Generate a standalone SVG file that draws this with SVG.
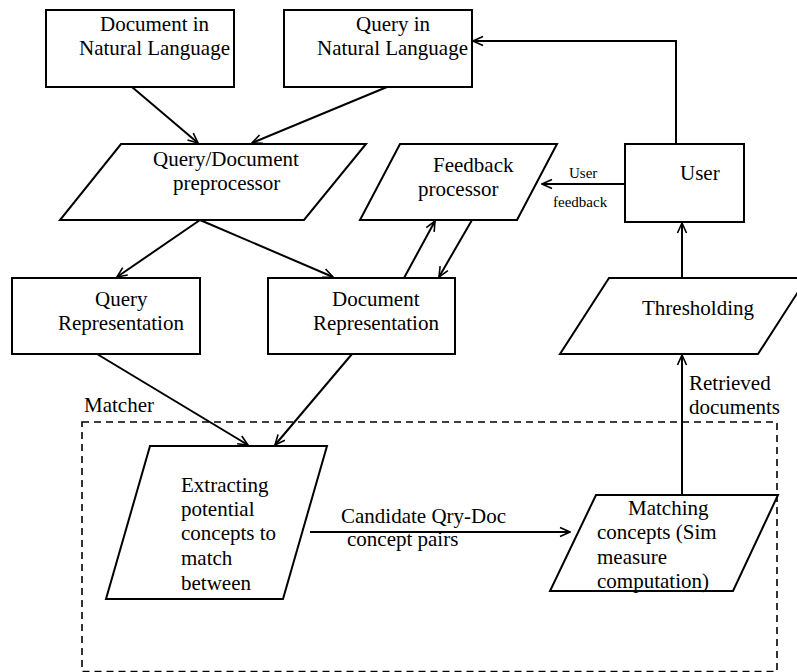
<svg xmlns="http://www.w3.org/2000/svg" width="797" height="672" viewBox="0 0 797 672" font-family="'Liberation Serif', 'DejaVu Serif', serif">
<style>
.box{fill:#fff;stroke:#000;stroke-width:2}
.t{font-family:'Liberation Serif','DejaVu Serif',serif;font-size:21px;fill:#000}
.s{font-family:'Liberation Serif','DejaVu Serif',serif;font-size:15px;fill:#000}
.c{fill:none;stroke:#000;stroke-width:2}
.dash{fill:none;stroke:#000;stroke-width:1.6;stroke-dasharray:7 5}
</style>
<defs>
<marker id="a" viewBox="0 0 12 12" refX="11" refY="6" markerWidth="12" markerHeight="12" markerUnits="userSpaceOnUse" orient="auto">
<path d="M1,1.5 L11,6 L1,10.5" fill="none" stroke="#000" stroke-width="1.6"/>
</marker>
</defs>
<rect width="797" height="672" fill="#fff"/>

<g id="matcher">
<rect class="dash" x="82" y="422" width="695" height="249.5"/>
<text class="t" x="84" y="412">Matcher</text>
</g>

<g id="connectors">
<line class="c" x1="132" y1="87" x2="198" y2="143" marker-end="url(#a)"/>
<line class="c" x1="387" y1="87" x2="252" y2="143" marker-end="url(#a)"/>
<line class="c" x1="200" y1="220" x2="117" y2="277" marker-end="url(#a)"/>
<line class="c" x1="200" y1="220" x2="333" y2="277" marker-end="url(#a)"/>
<line class="c" x1="97" y1="354" x2="248" y2="445" marker-end="url(#a)"/>
<line class="c" x1="352" y1="354" x2="275" y2="445" marker-end="url(#a)"/>
<line class="c" x1="404" y1="278" x2="435" y2="221" marker-end="url(#a)"/>
<line class="c" x1="472" y1="220" x2="439" y2="277" marker-end="url(#a)"/>
<polyline class="c" points="676,144 676,41 473,41" marker-end="url(#a)"/>
<line class="c" x1="625" y1="184" x2="542" y2="184" marker-end="url(#a)"/>
<line class="c" x1="682" y1="278" x2="682" y2="223" marker-end="url(#a)"/>
<line class="c" x1="682" y1="495" x2="682" y2="355" marker-end="url(#a)"/>
<line class="c" x1="310" y1="532" x2="570" y2="532" marker-end="url(#a)"/>
<text class="s" x="569" y="178">User</text>
<text class="s" x="553" y="207">feedback</text>
<text class="t" x="689" y="390">Retrieved</text>
<text class="t" x="689" y="414">documents</text>
<text class="t" x="341" y="523">Candidate Qry-Doc</text>
<text class="t" x="347" y="546">concept pairs</text>
</g>

<g id="doc-nl">
<rect class="box" x="46" y="10" width="188" height="77"/>
<text class="t" x="100" y="31">Document in</text>
<text class="t" x="79" y="55">Natural Language</text>
</g>

<g id="query-nl">
<rect class="box" x="284" y="10" width="188" height="77"/>
<text class="t" x="356" y="31">Query in</text>
<text class="t" x="317" y="55">Natural Language</text>
</g>

<g id="preprocessor">
<polygon class="box" points="121,144 366,144 304,220 60,220"/>
<text class="t" x="153" y="166">Query/Document</text>
<text class="t" x="173" y="190">preprocessor</text>
</g>

<g id="feedback-processor">
<polygon class="box" points="400,144 557,144 517,220 360,220"/>
<text class="t" x="433" y="172">Feedback</text>
<text class="t" x="418" y="196">processor</text>
</g>

<g id="user">
<rect class="box" x="625" y="144" width="119" height="78"/>
<text class="t" x="680" y="180">User</text>
</g>

<g id="query-rep">
<rect class="box" x="12" y="278" width="188" height="76"/>
<text class="t" x="95" y="306">Query</text>
<text class="t" x="58" y="330">Representation</text>
</g>

<g id="doc-rep">
<rect class="box" x="268" y="278" width="187" height="76"/>
<text class="t" x="332" y="306">Document</text>
<text class="t" x="313" y="330">Representation</text>
</g>

<g id="thresholding">
<polygon class="box" points="609,278 807,278 758,354 560,354"/>
<text class="t" x="642" y="315">Thresholding</text>
</g>

<g id="extracting">
<polygon class="box" points="150,446 327,446 283,599 106,599"/>
<text class="t" x="181" y="492">Extracting</text>
<text class="t" x="181" y="516">potential</text>
<text class="t" x="181" y="540">concepts to</text>
<text class="t" x="181" y="565">match</text>
<text class="t" x="181" y="590">between</text>
</g>

<g id="matching">
<polygon class="box" points="596,495 778,495 733,591 550,591"/>
<text class="t" x="628" y="515">Matching</text>
<text class="t" x="597" y="539">concepts (Sim</text>
<text class="t" x="597" y="564">measure</text>
<text class="t" x="597" y="588">computation)</text>
</g>
</svg>
